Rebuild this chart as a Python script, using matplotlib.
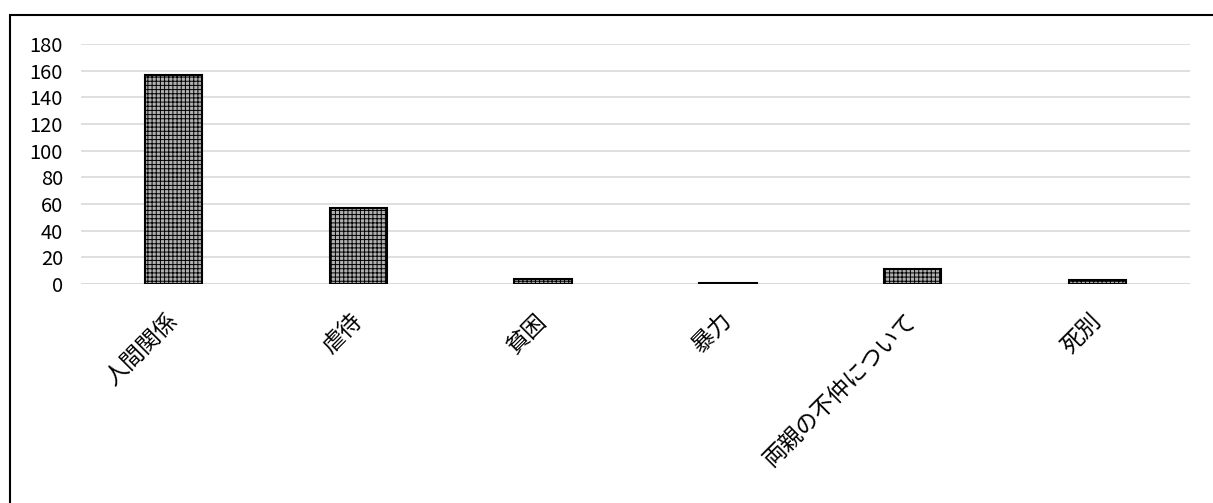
import matplotlib
matplotlib.use("Agg")
import matplotlib.pyplot as plt
from matplotlib.patches import Rectangle

plt.rcParams['font.family'] = ['Noto Sans CJK JP', 'DejaVu Sans']
plt.rcParams['hatch.color'] = '#111111'
plt.rcParams['hatch.linewidth'] = 0.7

categories = ['人間関係', '虐待', '貧困', '暴力', '両親の不仲について', '死別']
values = [157, 57, 4, 1, 11, 3]
yticks = [0, 20, 40, 60, 80, 100, 120, 140, 160, 180]

fig = plt.figure(figsize=(12.13, 5.03), dpi=100)
ax = fig.add_axes([0.0668, 0.4354, 0.9142, 0.4771])

x = range(len(categories))
ax.bar(x, values, width=0.31, color='#b0b0b0', edgecolor='black',
       linewidth=1.5, hatch='++++', zorder=3)

ax.set_xlim(-0.5, len(categories) - 0.5)
ax.set_ylim(0, 180)
ax.set_yticks(yticks)
ax.set_yticklabels([str(v) for v in yticks], fontsize=14.5)
ax.set_xticks(list(x))
ax.set_xticklabels(categories, rotation=45, ha='right', va='center',
                   rotation_mode='anchor', fontsize=16.5)
ax.tick_params(axis='y', length=0, pad=13)
ax.tick_params(axis='x', length=0, pad=24)
ax.grid(axis='y', color='#d9d9d9', linewidth=1.2, zorder=0)
for s in ax.spines.values():
    s.set_visible(False)
ax.axhline(0, color='#d9d9d9', linewidth=1.2, zorder=1)

# chart frame
fig.patches.append(Rectangle((9.5 / 1213, -0.1), 1.2, 1 - 15.5 / 503 + 0.1,
                             transform=fig.transFigure, fill=False,
                             edgecolor='black', linewidth=1.5))

fig.savefig('out.png', dpi=100)
